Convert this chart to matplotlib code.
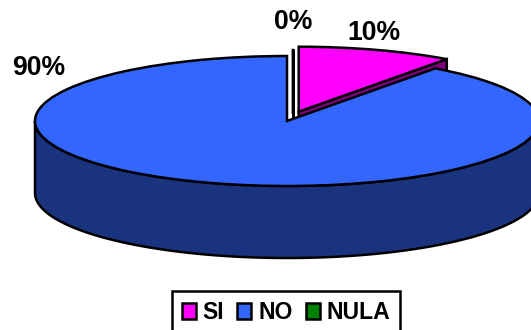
import numpy as np
import matplotlib
matplotlib.use('Agg')
import matplotlib.pyplot as plt
from matplotlib.patches import Patch, Polygon

plt.rcParams['font.family'] = ['Liberation Sans', 'DejaVu Sans']

categories = ['SI', 'NO', 'NULA']
values = [10, 90, 0]
value_labels = ['10%', '90%', '0%']
explode = [0.15, 0, 0]
colors = ['#FF00FF', '#3366FF', '#008000']
side_colors = ['#800080', '#1A337F', '#004000']

W, H = 531, 330
cx, cy, rx, ry = 287, 121, 252, 65   # top ellipse, pixels
depth = 72 / ry                      # pie thickness in unit-circle coords
lw = 1.8

fig = plt.figure(figsize=(W / 100, H / 100), dpi=100)
ax = fig.add_axes([0, 0, 1, 1])

wedges, _ = ax.pie(values, explode=explode, colors=colors, startangle=90,
                   counterclock=False, frame=True,
                   wedgeprops={'edgecolor': 'k', 'linewidth': lw, 'zorder': 3})
# squash the pie to an ellipse
ax.set_aspect('auto')
ax.set_xlim(-cx / rx, (W - cx) / rx)
ax.set_ylim((cy - H) / ry, cy / ry)
ax.axis('off')

# the 0% slice is pulled out a little as well, half way to the SI one
wedges[2].set_center((wedges[0].center[0] / 2, wedges[0].center[1] * 0.78))


def rim(w, a):
    a = np.radians(a)
    return np.array([w.center[0] + w.r * np.cos(a), w.center[1] + w.r * np.sin(a)])


def side_face(w, a, color):
    # flat cut face of a slice, seen below the top surface
    c = np.array(w.center)
    p = rim(w, a)
    d = np.array([0, depth])
    ax.add_patch(Polygon([c, p, p - d, c - d], closed=True, fc=color, ec='k', lw=lw, zorder=1))


# cut faces of the pulled out slices
side_face(wedges[0], wedges[0].theta1, side_colors[0])
side_face(wedges[2], wedges[2].theta1, side_colors[2])

# round wall of the NO slice, front half only
t = np.radians(np.linspace(180, 360, 200))
xs = np.cos(t)
ys = np.sin(t)
wall = np.column_stack([np.r_[xs, xs[::-1]], np.r_[ys, ys[::-1] - depth]])
ax.add_patch(Polygon(wall, closed=True, fc=side_colors[1], ec='k', lw=lw, zorder=2))

# value labels
label_pos = [(374, 33), (39, 68), (293, 22)]
for lab, (px, py) in zip(value_labels, label_pos):
    fig.text(px / W, 1 - py / H, lab, ha='center', va='center', fontsize=19.2,
             fontweight='bold', color='k')

handles = [Patch(fc=c, ec='k', lw=lw) for c in colors]
leg = fig.legend(handles, categories, ncol=3, loc='upper left',
                 bbox_to_anchor=(172 / W, 1 - 291 / H), borderaxespad=0,
                 fancybox=False, edgecolor='k', framealpha=1,
                 prop={'size': 16.6, 'weight': 'bold'}, borderpad=0.42,
                 handlelength=0.6, handleheight=0.7, handletextpad=0.3,
                 columnspacing=0.58)
leg.get_frame().set_linewidth(lw)

fig.savefig('out.png', dpi=100)
